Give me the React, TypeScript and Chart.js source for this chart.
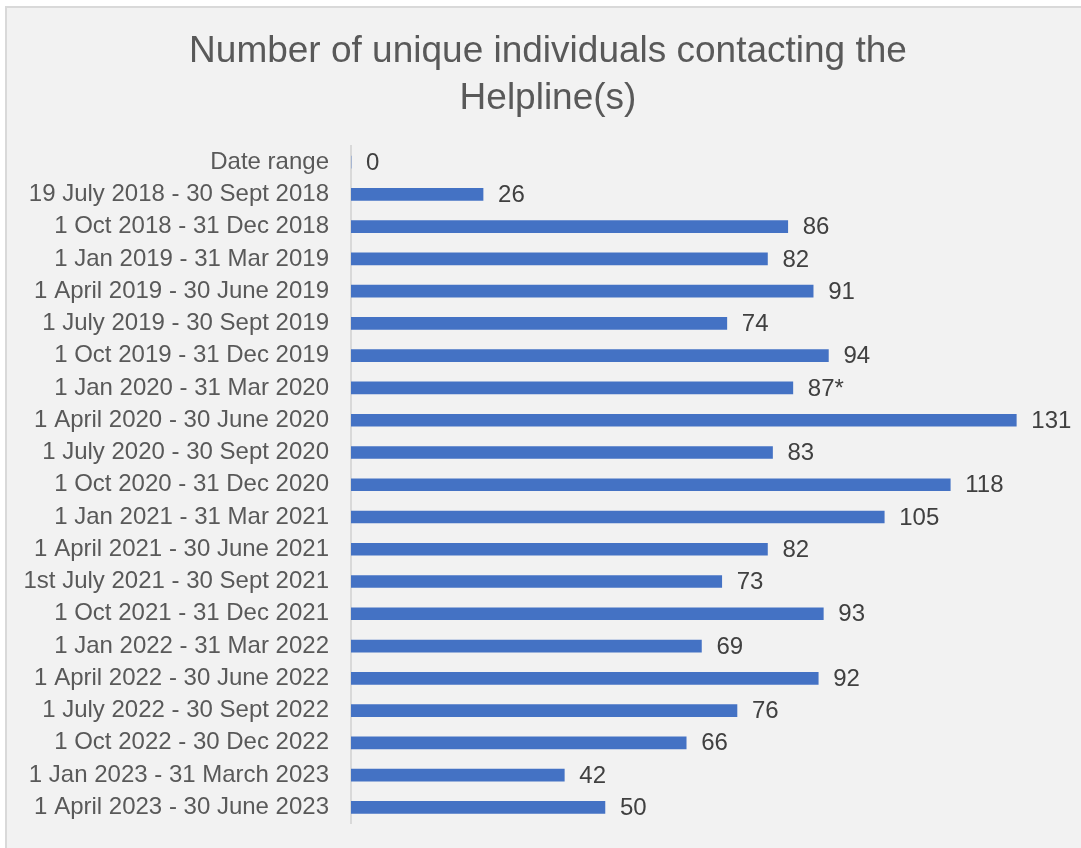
import React, { useEffect, useRef } from "react";
import { Chart, registerables } from "chart.js";

Chart.register(...registerables);

const categories: string[] = [
  "Date range",
  "19 July 2018 - 30 Sept 2018",
  "1 Oct 2018 - 31 Dec 2018",
  "1 Jan 2019 - 31 Mar 2019",
  "1 April 2019 - 30 June 2019",
  "1 July 2019 - 30 Sept 2019",
  "1 Oct 2019 - 31 Dec 2019",
  "1 Jan 2020 - 31 Mar 2020",
  "1 April 2020 - 30 June 2020",
  "1 July 2020 - 30 Sept 2020",
  "1 Oct 2020 - 31 Dec 2020",
  "1 Jan 2021 - 31 Mar 2021",
  "1 April 2021 - 30 June 2021",
  "1st July 2021 - 30 Sept 2021",
  "1 Oct 2021 - 31 Dec 2021",
  "1 Jan 2022 - 31 Mar 2022",
  "1 April 2022 - 30 June 2022",
  "1 July 2022 - 30 Sept 2022",
  "1 Oct 2022 - 30 Dec 2022",
  "1 Jan 2023 - 31 March 2023",
  "1 April 2023 - 30 June 2023",
];

const values: number[] = [
  0, 26, 86, 82, 91, 74, 94, 87, 131, 83, 118, 105, 82, 73, 93, 69, 92, 76, 66, 42, 50,
];

const valueLabels: string[] = [
  "0", "26", "86", "82", "91", "74", "94", "87*", "131", "83", "118", "105", "82", "73", "93", "69", "92", "76", "66", "42", "50",
];

const titleLines: string[] = ["Number of unique individuals contacting the", "Helpline(s)"];

const FONT = "'Liberation Sans', Arial, sans-serif";

const valueLabelPlugin = {
  id: "valueLabels",
  afterLayout(chart: any) {
    if (chart.titleBlock) {
      chart.titleBlock.left = 34;
    }
  },
  afterDatasetsDraw(chart: any) {
    const ctx = chart.ctx;
    const meta = chart.getDatasetMeta(0);
    ctx.save();
    ctx.font = `24px ${FONT}`;
    ctx.fillStyle = "#404040";
    ctx.textAlign = "left";
    ctx.textBaseline = "middle";
    meta.data.forEach((bar: any, i: number) => {
      ctx.fillText(valueLabels[i], bar.x + 15, bar.y + 1);
    });
    ctx.restore();
  },
};

export default function App() {
  const canvasRef = useRef<HTMLCanvasElement | null>(null);

  useEffect(() => {
    if (!canvasRef.current) return;
    const chart = new Chart(canvasRef.current, {
      type: "bar",
      data: {
        labels: categories,
        datasets: [
          {
            data: values,
            backgroundColor: "#4472C4",
            borderWidth: 0,
            barThickness: 12,
          },
        ],
      },
      options: {
        indexAxis: "y",
        animation: false,
        responsive: false,
        maintainAspectRatio: false,
        layout: { padding: { left: 0, right: 19, top: 0, bottom: 24.5 } },
        plugins: {
          legend: { display: false },
          tooltip: { enabled: false },
          title: {
            display: true,
            text: titleLines,
            color: "#595959",
            font: { family: FONT, size: 37, weight: "normal", lineHeight: 1.27 },
            padding: { top: 28, bottom: 24 },
          },
        },
        scales: {
          x: {
            display: false,
            min: 0,
            max: 140,
          },
          y: {
            grid: { display: false, drawTicks: false },
            border: { display: true, color: "#d9d9d9", width: 2 },
            ticks: {
              color: "#595959",
              font: { family: FONT, size: 24 },
              padding: 22,
              autoSkip: false,
            },
            afterFit(scale: any) {
              scale.width = 351;
              scale.paddingTop = 0;
              scale.paddingBottom = 0;
            },
          },
        },
      },
      plugins: [valueLabelPlugin],
    });
    return () => chart.destroy();
  }, []);

  return (
    <div style={{ position: "absolute", left: 0, top: 0, width: 1081, height: 848, background: "#ffffff", overflow: "hidden" }}>
      <div
        style={{
          position: "absolute",
          left: 5,
          top: 6,
          width: 1100,
          height: 900,
          background: "#f2f2f2",
          borderLeft: "2px solid #d9d9d9",
          borderTop: "2px solid #d9d9d9",
        }}
      />
      <canvas ref={canvasRef} width={1081} height={848} style={{ position: "absolute", left: 0, top: 0 }} />
    </div>
  );
}
